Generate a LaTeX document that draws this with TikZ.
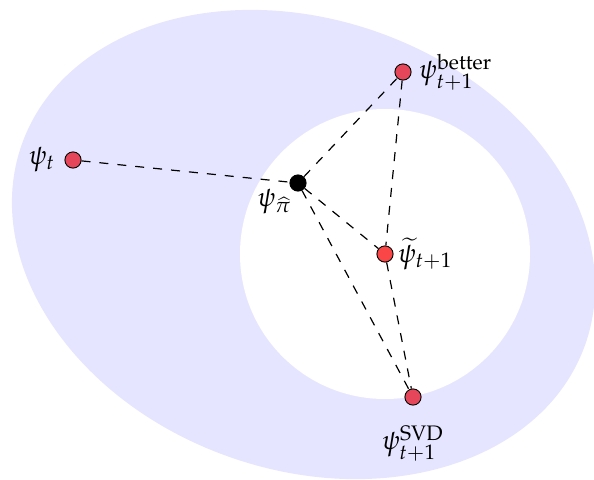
\documentclass[tikz,border=0pt]{standalone}
\usepackage{mathpazo}
\definecolor{ptred}{RGB}{230,70,90}
\definecolor{ptbright}{RGB}{250,70,70}
\tikzset{
  pt/.style={circle, draw=black, line width=0.3pt, inner sep=0pt, minimum size=5.4pt, fill=ptred},
  ptb/.style={pt, fill=ptbright},
  ptk/.style={pt, fill=black},
  conn/.style={dashed, line width=0.4pt},
  every label/.style={font=\fontsize{9}{11}\selectfont},
}
\begin{document}
\begin{tikzpicture}[x=0.33333pt, y=-0.33333pt]
\clip (0,0) rectangle (594,479);
\fill[blue!10, rotate around={-19.7:(303.5,244.5)}] (303.5,244.5) ellipse[x radius=299, y radius=225];
\fill[white] (385,254) circle[radius=145];
\node[pt, label={[label distance=-0.5pt]left:$\psi_t$}] (pt) at (73,160) {};
\node[ptk, label={[label distance=-5pt]below left:$\psi_{\widehat{\pi}}$}] (pi) at (298,183) {};
\node[pt, label={[label distance=-1pt]right:$\psi_{t+1}^{\mathrm{better}}$}] (bt) at (403,72) {};
\node[ptb, label={[label distance=-2pt]right:$\widetilde{\psi}_{t+1}$}] (tl) at (385,254) {};
\node[pt, label={[label distance=3pt]below:$\psi_{t+1}^{\mathrm{SVD}}$}] (svd) at (413,397) {};
\draw[conn] (pt) -- (pi);
\draw[conn] (pi) -- (bt);
\draw[conn] (pi) -- (tl);
\draw[conn] (pi) -- (svd);
\draw[conn] (bt) -- (tl);
\draw[conn] (tl) -- (svd);
\end{tikzpicture}
\end{document}
